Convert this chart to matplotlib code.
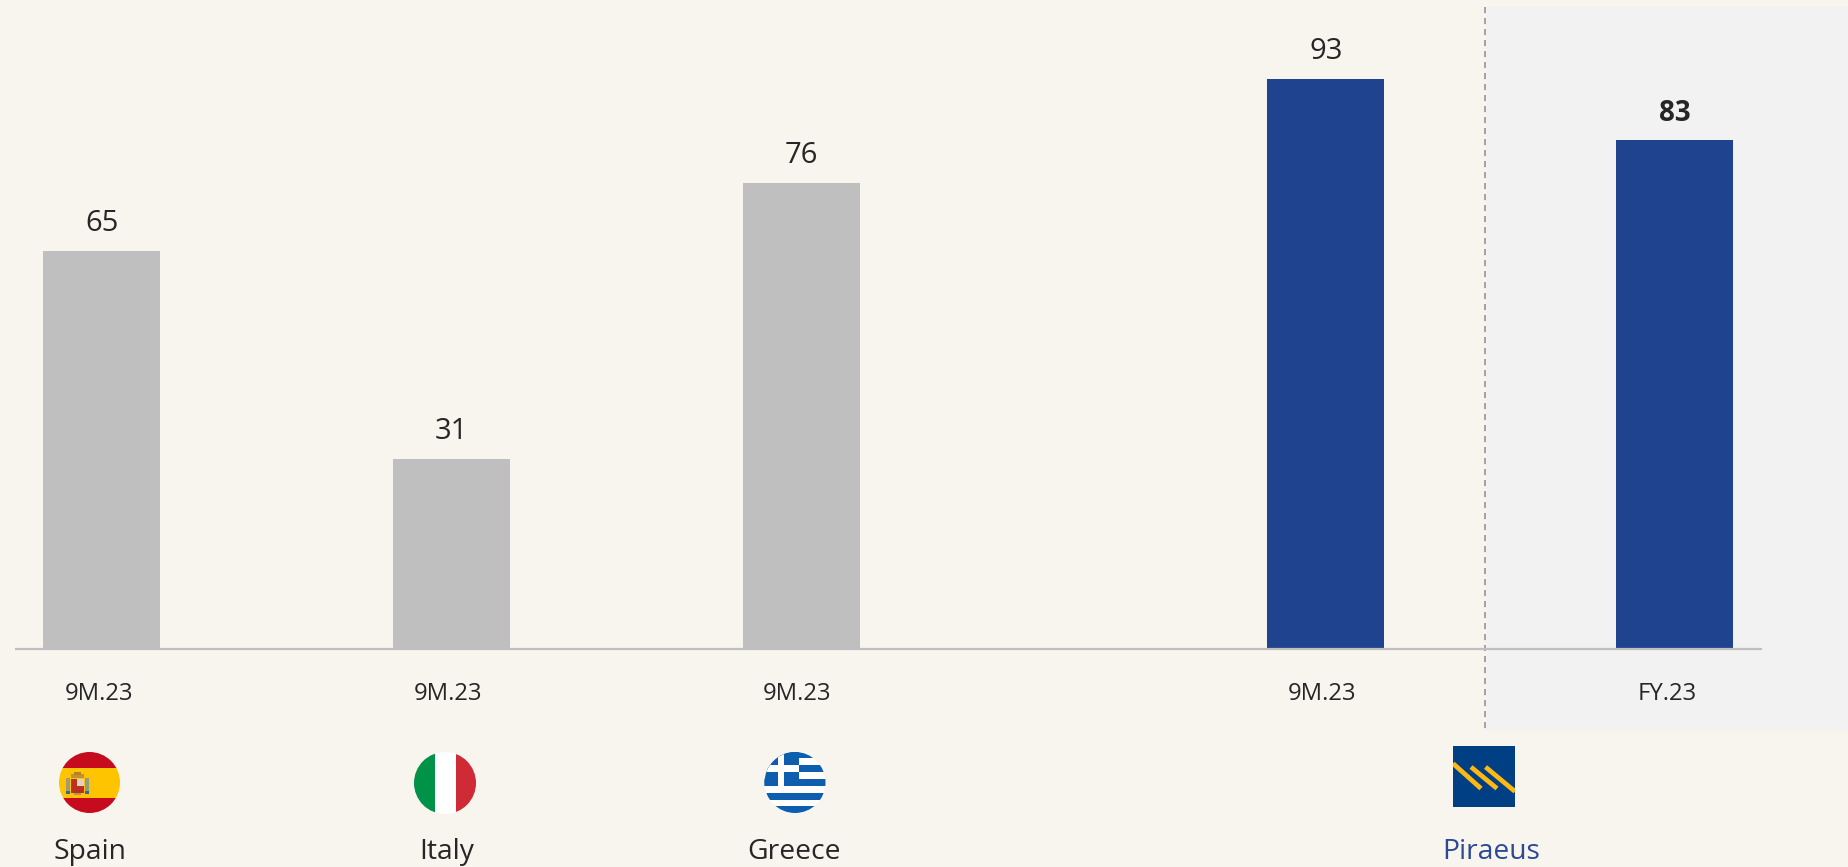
import matplotlib
matplotlib.use("Agg")
import matplotlib.pyplot as plt
from matplotlib.patches import Circle, Rectangle

# Data
countries = ["Spain", "Italy", "Greece", "Piraeus"]
periods = ["9M.23", "9M.23", "9M.23", "9M.23", "FY.23"]
values = [65, 31, 76, 93, 83]

# Layout, in canvas pixels
W, H = 1848, 867
BASE_Y = 649
PX_PER_UNIT = 6.13
bar_centres = [101.5, 451, 801, 1325.5, 1674.5]
bar_width = 117
period_x = [99, 448, 797, 1322, 1667]
country_x = [89.5, 447, 794, 1491]

BG = "#f8f5ef"
PANEL = "#f2f2f2"
GREY = "#bfbfbf"
NAVY = "#1f438f"
INK = "#262626"
bar_colours = [GREY, GREY, GREY, NAVY, NAVY]

plt.rcParams["font.family"] = ["Open Sans", "DejaVu Sans"]

fig = plt.figure(figsize=(W / 100, H / 100), dpi=100, facecolor=BG)

# Pixel-space layer for the panel, separator, labels and emblems
px = fig.add_axes([0, 0, 1, 1], zorder=1)
px.set_xlim(0, W)
px.set_ylim(H, 0)
px.axis("off")

px.add_patch(Rectangle((1486, 7), W - 1486, 724, fc=PANEL, ec="none"))
px.plot([1485, 1485], [7, 731], color="#8c8c8c", lw=1.1, dashes=(4, 3.2))

# Bar layer: zero sits on the baseline
ax = fig.add_axes([0, 0, 1, 1], zorder=2)
ax.patch.set_alpha(0)
ax.set_xlim(0, W)
ax.set_ylim(-(H - BASE_Y) / PX_PER_UNIT, BASE_Y / PX_PER_UNIT)
ax.axis("off")
bars = ax.bar(bar_centres, values, width=bar_width, color=bar_colours, linewidth=0)
ax.plot([15, 1762], [0, 0], color="#bfbfbf", lw=1.6, solid_capstyle="butt")

for i, (x, v) in enumerate(zip(bar_centres, values)):
    last = i == len(values) - 1
    ax.annotate(str(v), (x + (0 if last else 0.5), v),
                xytext=(0, 8.9 if last else 9.2),
                textcoords="offset points", ha="center", va="bottom",
                fontsize=20 if last else 21, color=INK,
                fontweight="bold" if last else "normal")

for x, p in zip(period_x, periods):
    px.text(x, 693.5, p, ha="center", va="center", fontsize=17.2, color=INK)

for x, c in zip(country_x, countries):
    px.text(x, 852, c, ha="center", va="center", fontsize=20.3,
            color="#2b4a94" if c == "Piraeus" else INK)


def stripes(cx, cy, r, rows, clip):
    # Horizontal bands clipped to the round emblem
    for y0, y1, col in rows:
        p = Rectangle((cx - r - 1, y0), 2 * r + 2, y1 - y0, fc=col, ec="none", zorder=5)
        px.add_patch(p)
        p.set_clip_path(clip)


def boxes(items, clip):
    for x, y, w, h, col in items:
        p = Rectangle((x, y), w, h, fc=col, ec="none", zorder=6)
        px.add_patch(p)
        p.set_clip_path(clip)


# Spain, with a simplified coat of arms
c = Circle((89.5, 782.5), 30.5, transform=px.transData)
stripes(89.5, 782.5, 30.5,
        [(750, 767.5, "#c60b1e"), (767.5, 798, "#ffc400"), (798, 815, "#c60b1e")], c)
boxes([(66, 778, 4, 15, "#a89a70"), (85, 778, 4, 15, "#8f9a88"),
       (71, 779, 6, 14, "#b5331f"), (77, 779, 7, 7, "#e3cfc6"),
       (77, 786, 7, 7, "#b5331f"), (71, 774, 13, 4, "#c2922a"),
       (74, 771.5, 7, 3, "#b5802a"), (66, 791, 4, 3, "#2f6b9a"),
       (85, 791, 4, 3, "#2f6b9a"), (74, 793, 7, 1.5, "#c98a5a")], c)

# Italy
c = Circle((445, 783), 31, transform=px.transData)
boxes([(414, 752, 21, 62, "#009246"), (435, 752, 21, 62, "#ffffff"),
       (456, 752, 21, 62, "#ce2b37")], c)

# Greece
BLUE = "#0d5eaf"
c = Circle((795, 782.5), 30.5, transform=px.transData)
stripes(795, 782.5, 30.5,
        [(751, 757.7, BLUE), (757.7, 765, "#ffffff"), (765, 771.7, BLUE),
         (771.7, 779, "#ffffff"), (779, 785.7, BLUE), (785.7, 792.7, "#ffffff"),
         (792.7, 799.5, BLUE), (799.5, 806, "#ffffff"), (806, 814, BLUE)], c)
boxes([(764, 751, 34.5, 34.7, BLUE), (777.7, 751, 6.6, 34.7, "#ffffff"),
       (764, 765, 34.5, 6.7, "#ffffff")], c)

# Piraeus emblem
logo = Rectangle((1453, 746), 62, 61, fc="#003f84", ec="none", zorder=5)
px.add_patch(logo)
for (x0, y0, x1, y1) in [(1453, 763.5, 1481, 788.5),
                         (1471, 767, 1497, 788.5),
                         (1485.5, 767, 1515, 791.5)]:
    ln, = px.plot([x0, x1], [y0, y1], color="#fdb813", lw=3.4,
                  solid_capstyle="butt", zorder=6)
    ln.set_clip_path(logo)

fig.savefig("out.png", dpi=100, facecolor=BG)
